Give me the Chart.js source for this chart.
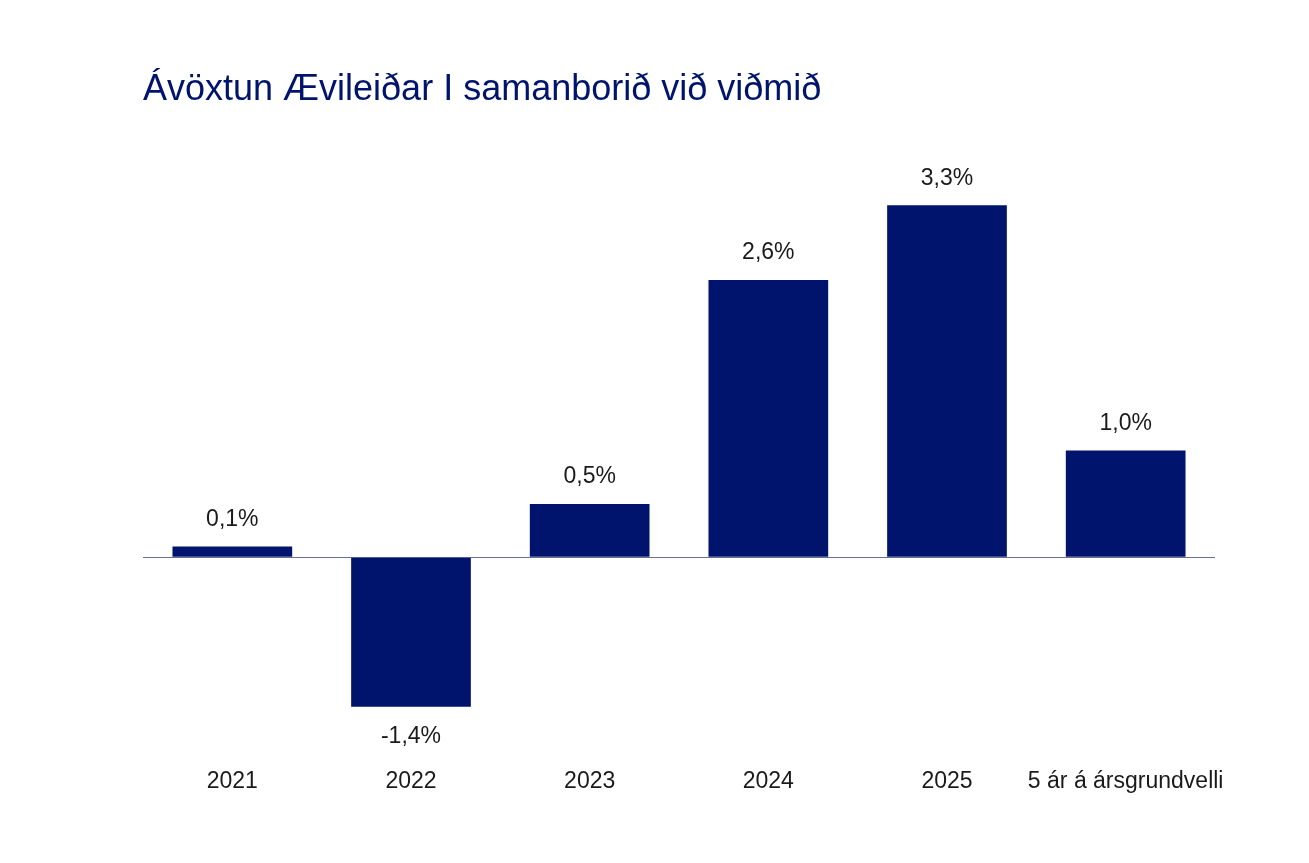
<!DOCTYPE html>
<html>
<head>
<meta charset="utf-8">
<script src="https://cdn.jsdelivr.net/npm/chart.js@4"></script>
<style>
  html, body { margin: 0; padding: 0; background: #fff; }
  #wrap { width: 1309px; height: 863px; }
</style>
</head>
<body>
<div id="wrap"><canvas id="returnChart" width="1309" height="863"></canvas></div>
<script>
"use strict";
const categories = ['2021', '2022', '2023', '2024', '2025', '5 ár á ársgrundvelli'];
const returns = [0.1, -1.4, 0.5, 2.6, 3.3, 1.0];
const titleText = 'Ávöxtun Ævileiðar I samanborið við viðmið';

const navy = '#00146e';
const fontFamily = '"Liberation Sans", Arial, sans-serif';

// draws value labels above / below each bar
const valueLabels = {
    id: 'valueLabels',
    afterDatasetsDraw(chart) {
        const ctx = chart.ctx;
        const meta = chart.getDatasetMeta(0);
        ctx.save();
        ctx.font = '23px ' + fontFamily;
        ctx.fillStyle = '#1a1a1a';
        ctx.textAlign = 'center';
        ctx.textBaseline = 'middle';
        meta.data.forEach((bar, i) => {
            let v = returns[i];
            let txt = v.toFixed(1).replace('.', ',') + '%';
            let y = v >= 0 ? bar.y - 27 : bar.y + 30;
            ctx.fillText(txt, bar.x, y);
        });
        ctx.restore();
    }
};

let canvas = document.getElementById('returnChart');
let ctx = canvas.getContext('2d');
new Chart(ctx, {
    type: 'bar',
    data: {
        labels: categories,
        datasets: [{
            data: returns,
            backgroundColor: navy,
            borderWidth: 0,
            barPercentage: 0.67,
            categoryPercentage: 1
        }]
    },
    options: {
        responsive: false,
        animation: false,
        layout: {
            padding: { left: 143, right: 94, top: 0, bottom: 65 }
        },
        plugins: {
            legend: { display: false },
            tooltip: { enabled: false },
            title: {
                display: true,
                text: titleText,
                align: 'start',
                color: navy,
                font: { family: fontFamily, size: 36, weight: 'normal', lineHeight: 1.2 },
                padding: { top: 68, bottom: 62 }
            }
        },
        scales: {
            x: {
                afterFit(scale) { scale.height = 70; },
                grid: { display: false, drawTicks: false },
                border: { display: false },
                ticks: {
                    color: '#1a1a1a',
                    padding: 40,
                    autoSkip: false,
                    maxRotation: 0,
                    font: { family: fontFamily, size: 23 }
                }
            },
            y: {
                min: -1.6,
                max: 3.6,
                afterFit(scale) { scale.width = 0; },
                border: { display: false },
                ticks: { display: false, stepSize: 0.1 },
                grid: {
                    drawTicks: false,
                    lineWidth: 1,
                    color: c => Math.abs(c.tick.value) < 1e-9 ? '#6b7099' : 'rgba(0,0,0,0)'
                }
            }
        }
    },
    plugins: [valueLabels]
});
</script>
</body>
</html>
